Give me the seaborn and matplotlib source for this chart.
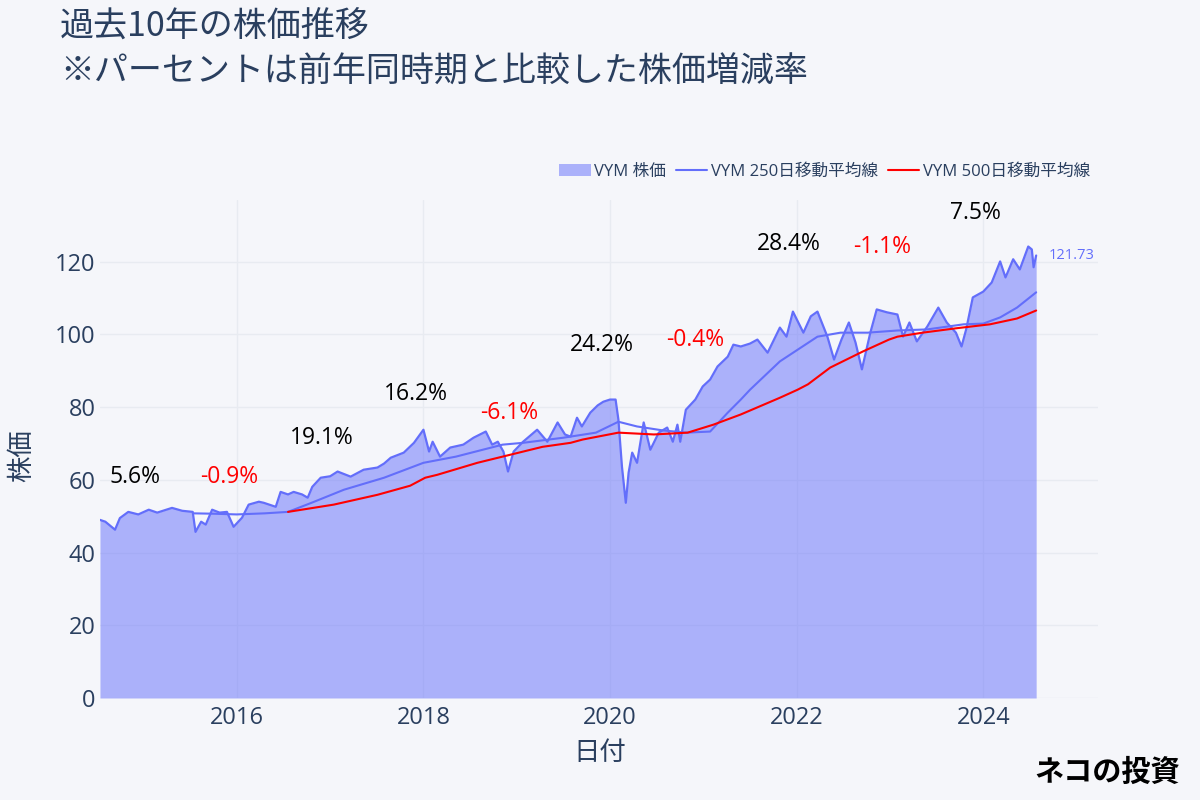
import matplotlib
matplotlib.use("Agg")
import matplotlib.pyplot as plt
import seaborn as sns
import pandas as pd

# VYM price (date, price)
price_dates = [
    "2014-07-15", "2014-08-05", "2014-09-12", "2014-10-01", "2014-11-03", "2014-12-12",
    "2015-01-22", "2015-02-24", "2015-04-23", "2015-06-02", "2015-07-13", "2015-07-24",
    "2015-08-15", "2015-09-02", "2015-09-27", "2015-10-26", "2015-11-24", "2015-12-20",
    "2016-01-22", "2016-02-17", "2016-03-28", "2016-04-16", "2016-06-02", "2016-06-21",
    "2016-07-20", "2016-08-11", "2016-09-13", "2016-10-05", "2016-10-23", "2016-11-25",
    "2017-01-01", "2017-01-30", "2017-03-22", "2017-05-12", "2017-07-05", "2017-07-31",
    "2017-08-26", "2017-10-16", "2017-11-25", "2018-01-01", "2018-01-23", "2018-02-06",
    "2018-03-07", "2018-04-16", "2018-06-06", "2018-07-16", "2018-09-02", "2018-09-27",
    "2018-10-19", "2018-11-10", "2018-11-28", "2018-12-20", "2019-01-26", "2019-03-22",
    "2019-05-01", "2019-06-10", "2019-07-09", "2019-07-31", "2019-08-25", "2019-09-13",
    "2019-10-16", "2019-11-14", "2019-12-06", "2020-01-01", "2020-01-23", "2020-02-03",
    "2020-02-17", "2020-03-03", "2020-03-14", "2020-03-28", "2020-04-16", "2020-05-12",
    "2020-06-07", "2020-07-10", "2020-08-12", "2020-09-03", "2020-09-21", "2020-10-02",
    "2020-10-24", "2020-11-30", "2020-12-29", "2021-01-27", "2021-02-25", "2021-04-06",
    "2021-04-28", "2021-05-27", "2021-07-02", "2021-07-31", "2021-09-09", "2021-10-27",
    "2021-11-22", "2021-12-17", "2022-01-27", "2022-02-25", "2022-03-23", "2022-05-01",
    "2022-05-27", "2022-06-25", "2022-07-24", "2022-08-19", "2022-09-13", "2022-10-16",
    "2022-11-10", "2022-12-20", "2023-01-30", "2023-02-21", "2023-03-18", "2023-04-16",
    "2023-05-27", "2023-07-09", "2023-08-11", "2023-09-16", "2023-10-08", "2023-10-26",
    "2023-11-21", "2024-01-01", "2024-02-03", "2024-03-07", "2024-03-28", "2024-04-27",
    "2024-05-23", "2024-06-25", "2024-07-09", "2024-07-16", "2024-07-26",
]
price_values = [
    49.0, 48.5, 46.3, 49.5, 51.2, 50.5,
    51.8, 51.0, 52.3, 51.5, 51.2, 45.7,
    48.5, 47.7, 51.8, 51.0, 51.2, 47.1,
    49.6, 53.2, 54.0, 53.7, 52.6, 56.7,
    56.0, 56.7, 56.0, 55.1, 58.1, 60.6,
    61.0, 62.3, 60.9, 62.8, 63.4, 64.5,
    66.1, 67.5, 70.2, 73.8, 67.8, 70.5,
    66.4, 68.9, 69.7, 71.6, 73.3, 69.7,
    70.5, 67.8, 62.3, 67.8, 70.5, 73.8,
    70.5, 75.8, 72.5, 71.9, 77.1, 74.7,
    78.5, 80.5, 81.5, 82.1, 82.1, 76.6,
    63.6, 53.7, 62.0, 67.5, 64.7, 75.8,
    68.3, 73.0, 74.4, 70.5, 75.2, 70.5,
    79.3, 82.1, 85.7, 87.6, 91.2, 93.9,
    97.2, 96.7, 97.5, 98.6, 95.0, 101.9,
    99.4, 106.3, 100.5, 105.0, 106.3, 99.4,
    93.1, 98.6, 103.3, 97.8, 90.4, 100.5,
    106.9, 106.1, 105.5, 99.4, 103.3, 98.1,
    102.2, 107.4, 103.3, 100.5, 96.7, 101.4,
    110.2, 111.8, 114.3, 120.1, 115.7, 120.7,
    117.9, 124.2, 123.4, 118.5, 121.73,
]

# 250-day moving average
ma250_dates = [
    "2015-07-15", "2015-10-01", "2016-01-01", "2016-04-20", "2016-07-20", "2016-10-20",
    "2017-02-24", "2017-07-31", "2018-01-01", "2018-05-08", "2018-11-07", "2019-01-26",
    "2019-07-02", "2019-11-07", "2020-02-03", "2020-04-16", "2020-07-27", "2020-10-27",
    "2021-01-27", "2021-04-06", "2021-05-27", "2021-07-02", "2021-10-27", "2022-03-23",
    "2022-06-21", "2022-10-05", "2023-01-30", "2023-05-27", "2023-10-16", "2024-01-01",
    "2024-03-07", "2024-05-12", "2024-07-26",
]
ma250_values = [
    50.8, 50.7, 50.5, 50.8, 51.2, 53.7,
    57.3, 60.6, 64.7, 66.4, 69.7, 70.2,
    71.6, 73.0, 76.0, 74.7, 73.6, 73.0,
    73.3, 78.5, 82.1, 84.8, 92.6, 99.4,
    100.5, 100.5, 101.1, 101.4, 102.8, 103.0,
    104.7, 107.4, 111.6,
]

# 500-day moving average
ma500_dates = [
    "2016-07-20", "2017-01-15", "2017-07-05", "2017-11-10", "2018-01-08", "2018-02-24",
    "2018-07-31", "2018-11-24", "2019-04-12", "2019-07-31", "2019-09-16", "2020-02-03",
    "2020-06-21", "2020-10-31", "2021-02-09", "2021-05-27", "2021-10-27", "2022-01-04",
    "2022-02-14", "2022-05-12", "2022-09-16", "2022-12-28", "2023-01-30", "2023-05-08",
    "2023-09-16", "2024-01-27", "2024-05-12", "2024-07-26",
]
ma500_values = [
    51.2, 53.2, 55.9, 58.4, 60.6, 61.4,
    64.7, 66.7, 69.1, 70.2, 71.1, 73.0,
    72.5, 73.0, 75.2, 78.0, 82.6, 84.8,
    86.3, 90.9, 95.3, 98.6, 99.4, 100.5,
    101.7, 102.8, 104.4, 106.6,
]

# year-on-year change labels
yoy_dates = ["2014-12-01", "2015-12-01", "2016-12-01", "2017-12-01", "2018-12-01",
             "2019-12-01", "2020-12-01", "2021-12-01", "2022-12-01", "2023-12-01"]
yoy_labels = ["5.6%", "-0.9%", "19.1%", "16.2%", "-6.1%",
              "24.2%", "-0.4%", "28.4%", "-1.1%", "7.5%"]
yoy_y = [60.9, 60.9, 71.6, 83.5, 78.5, 97.2, 98.6, 124.8, 124.0, 133.3]

tick_years = ["2016", "2018", "2020", "2022", "2024"]

price = pd.DataFrame({"date": pd.to_datetime(price_dates), "price": price_values})
ma250 = pd.DataFrame({"date": pd.to_datetime(ma250_dates), "ma": ma250_values})
ma500 = pd.DataFrame({"date": pd.to_datetime(ma500_dates), "ma": ma500_values})

BG = "#f5f6fa"
BLUE = "#636efa"
TXT = "#2a3f5f"
LATIN = ["Open Sans", "Noto Sans CJK JP", "DejaVu Sans"]

sns.set_theme(style="whitegrid", rc={
    "figure.facecolor": BG, "axes.facecolor": BG,
    "grid.color": "#e8ebf1", "grid.linewidth": 1.0,
})
plt.rcParams["font.family"] = ["Noto Sans CJK JP", "DejaVu Sans"]

fig = plt.figure(figsize=(12, 8), dpi=100)
ax = fig.add_axes([0.0833, 0.1275, 0.8317, 0.6225])

ax.fill_between(price["date"], price["price"], 0, color=BLUE, alpha=0.5,
                linewidth=0, label="VYM 株価")
sns.lineplot(data=price, x="date", y="price", ax=ax, color=BLUE, linewidth=1.6,
             legend=False)
sns.lineplot(data=ma250, x="date", y="ma", ax=ax, color=BLUE, linewidth=1.5,
             label="VYM 250日移動平均線", legend=False)
sns.lineplot(data=ma500, x="date", y="ma", ax=ax, color="red", linewidth=1.5,
             label="VYM 500日移動平均線", legend=False)

for d, lab, yv in zip(yoy_dates, yoy_labels, yoy_y):
    col = "red" if lab.startswith("-") else "black"
    ax.text(pd.Timestamp(d), yv, lab, ha="center", va="center", fontsize=16.5,
            color=col, family=LATIN)

# last price label
last = price.iloc[-1]
ax.annotate(f"{last['price']:.2f}", (last["date"], last["price"]),
            xytext=(9, 0), textcoords="offset points", ha="left", va="center",
            fontsize=10.5, color=BLUE, family=LATIN)

ax.set_xlim(pd.Timestamp("2014-07-15"), pd.Timestamp("2025-03-25"))
ax.set_ylim(0, 137)
ax.set_xticks(pd.to_datetime([y + "-01-01" for y in tick_years]))
ax.set_xticklabels(tick_years, family=LATIN)
ax.set_yticks([0, 20, 40, 60, 80, 100, 120])
ax.set_yticklabels([0, 20, 40, 60, 80, 100, 120], family=LATIN)
ax.tick_params(axis="both", length=0, labelsize=17, labelcolor=TXT)
ax.tick_params(axis="x", pad=6)
ax.tick_params(axis="y", pad=3)
ax.set_xlabel("")
ax.set_ylabel("")
for s in ax.spines.values():
    s.set_visible(False)
ax.grid(True)
ax.set_axisbelow(True)

fig.text(0.018, 0.431, "株価", rotation=90, ha="center", va="center",
         fontsize=19, color=TXT)
fig.text(0.5, 0.06, "日付", ha="center", va="center", fontsize=19, color=TXT)

fig.text(0.05, 0.966, "過去10年の株価推移", ha="left", va="center",
         fontsize=24.5, color=TXT)
fig.text(0.05, 0.91, "※パーセントは前年同時期と比較した株価増減率", ha="left",
         va="center", fontsize=24.5, color=TXT)

handles, labels = ax.get_legend_handles_labels()
leg = fig.legend(handles, labels, loc="center right", bbox_to_anchor=(0.918, 0.785),
                 ncol=3, frameon=False, fontsize=12, labelcolor=TXT,
                 handlelength=1.9, columnspacing=0.6, handletextpad=0.2,
                 borderpad=0.2)
for t in leg.get_texts():
    t.set_family(LATIN)

fig.text(0.923, 0.035, "ネコの投資", ha="center", va="center", fontsize=21,
         fontweight="bold", color="black")

fig.savefig("out.png", dpi=100, facecolor=BG)
